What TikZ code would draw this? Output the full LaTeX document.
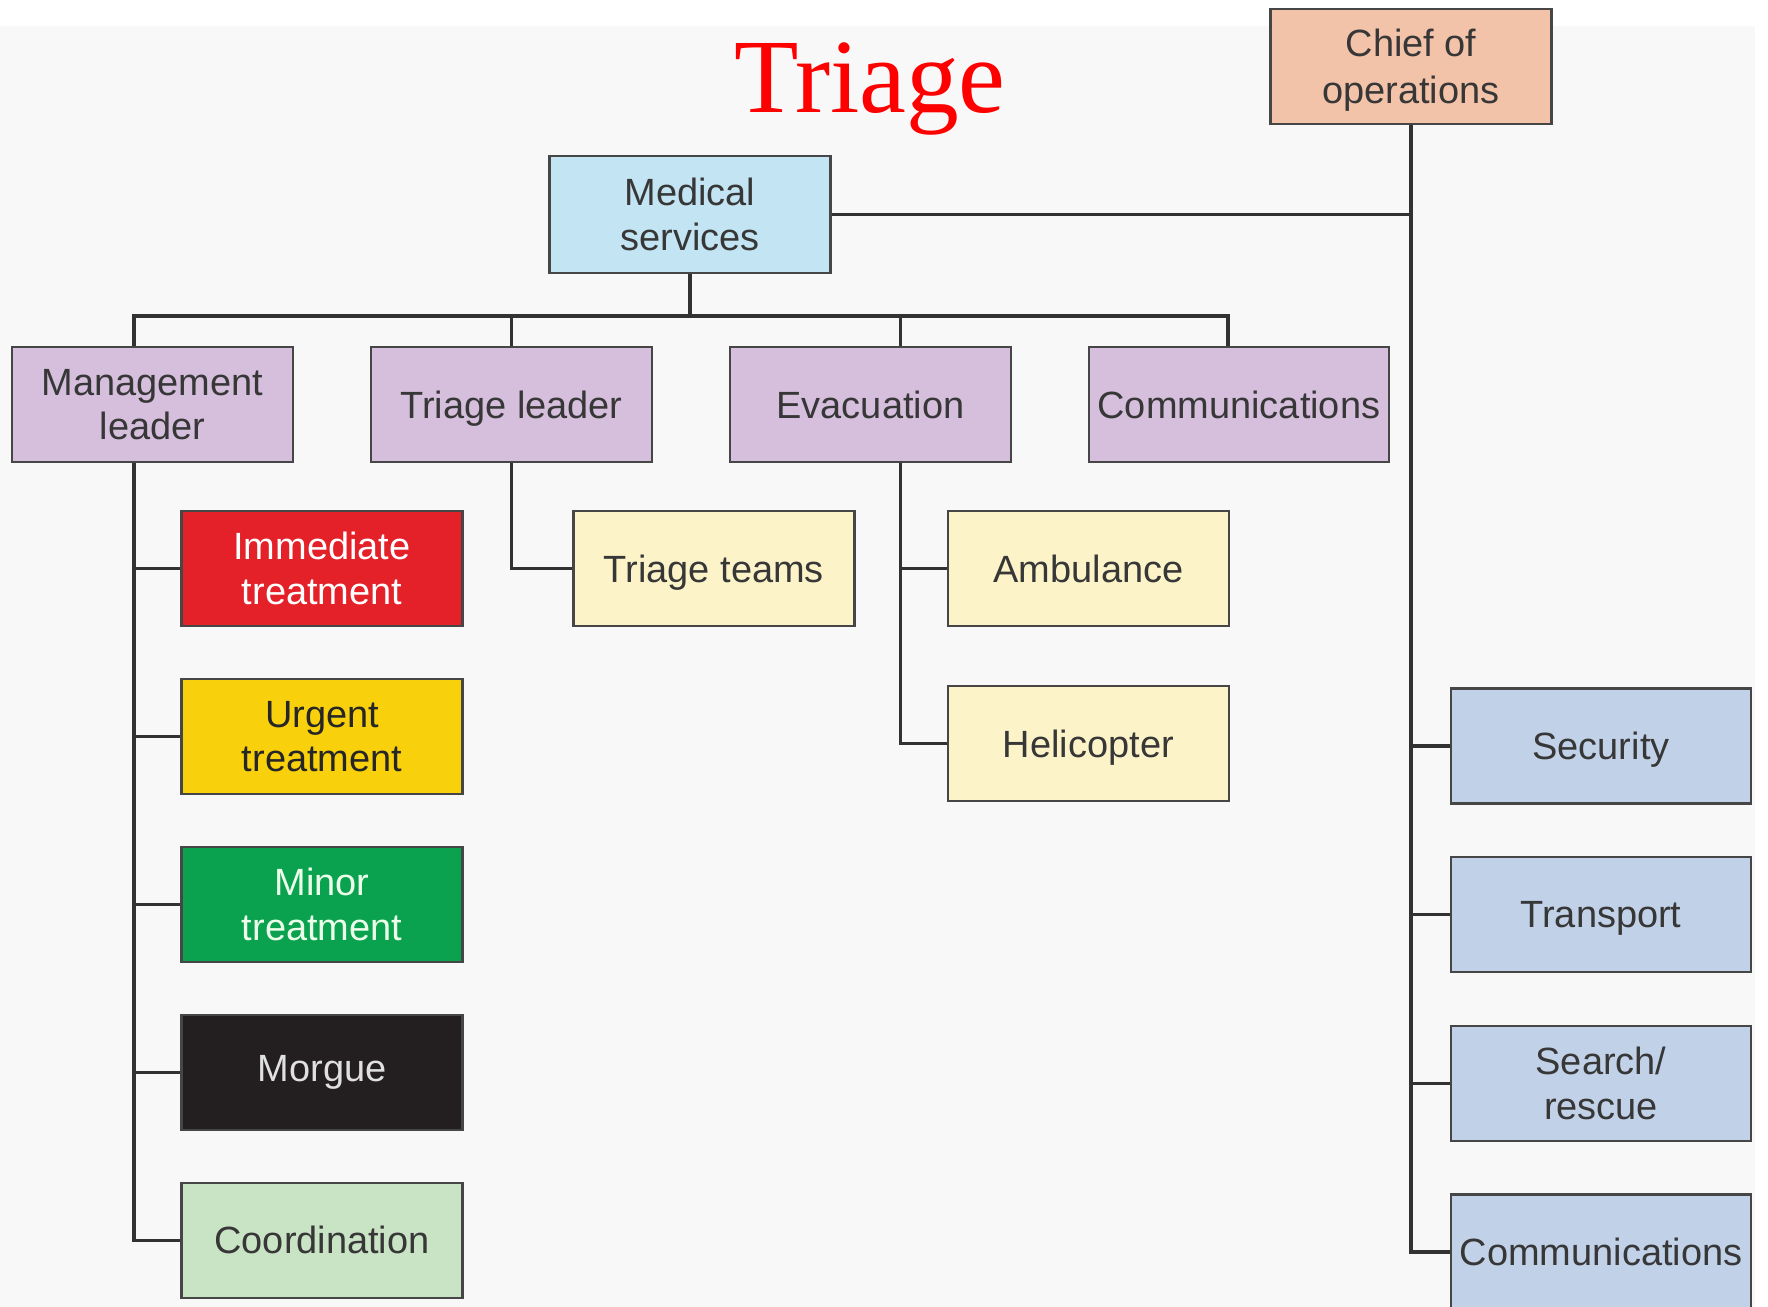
\documentclass[tikz,border=0pt]{standalone}
\usepackage{fontspec}
\newfontfamily\boxfont{Liberation Sans}
\newfontfamily\titlefont{Liberation Serif}
\usetikzlibrary{positioning}

\begin{document}
\begin{tikzpicture}[x=0.1mm,y=-0.1mm,line width=1pt,node distance=5.05mm,
	base box/.style={rectangle,draw=boxline,line width=0.7pt,minimum width=28.1mm,
		minimum height=11.5mm,align=center,text=txtgray,inner xsep=1pt,
		font=\boxfont\fontsize{10.8}{12.6}\selectfont},
	lead box/.style={base box,fill=lilac,text depth=0pt},
	sub box/.style={base box,fill=paleyellow,text depth=0pt},
	ops box/.style={base box,fill=opsblue,minimum width=30mm,text depth=0pt}]
	
	\definecolor{bggray}{RGB}{248,248,248}
	\definecolor{boxline}{RGB}{70,70,70}
	\definecolor{wire}{RGB}{50,50,50}
	\definecolor{txtgray}{RGB}{55,55,55}
	\definecolor{salmon}{RGB}{242,194,169}
	\definecolor{medblue}{RGB}{194,228,243}
	\definecolor{lilac}{RGB}{214,191,221}
	\definecolor{paleyellow}{RGB}{252,244,200}
	\definecolor{redcat}{RGB}{228,32,40}
	\definecolor{yellowcat}{RGB}{248,209,12}
	\definecolor{greencat}{RGB}{10,162,78}
	\definecolor{blackcat}{RGB}{35,31,32}
	\definecolor{palegreen}{RGB}{201,227,197}
	\definecolor{opsblue}{RGB}{193,209,232}
	
	\useasboundingbox (0,0) rectangle (1768,1307);
	\fill[bggray] (0,26) rectangle (1755,1307);
	
	\node[text=red,anchor=base,font=\titlefont\fontsize{30}{30}\selectfont] (title) at (870,113) {Triage};
	
	\node[base box,fill=salmon,text depth=0pt,font=\boxfont\fontsize{10.8}{13.4}\selectfont] (chief) at (1411,66.5) {Chief of\\operations};
	\node[base box,fill=medblue,minimum height=11.7mm] (med) at (690,214.5) {Medical\\services};
	
	% second row
	\node[lead box] (mgmt) at (152.5,404.5) {Management\\leader};
	\node[lead box] (tlead) [right=7.55mm of mgmt] {Triage leader};
	\node[lead box] (evac) [right=7.55mm of tlead] {Evacuation};
	\node[lead box,minimum width=30mm] (comm) [right=7.55mm of evac] {Communications};
	
	% treatment areas
	\node[base box,fill=redcat,text=white] (imm) at (322,568.5) {Immediate\\treatment};
	\node[base box,fill=yellowcat,text=black!85] (urg) [below=of imm] {Urgent\\treatment};
	\node[base box,fill=greencat,text=green!8] (minor) [below=of urg] {Minor\\treatment};
	\node[base box,fill=blackcat,text=black!12] (morgue) [below=of minor] {Morgue};
	\node[base box,fill=palegreen] (coord) [below=of morgue] {Coordination};
	
	\node[sub box] (tteam) [right=10.85mm of imm] {Triage teams};
	\node[sub box] (amb) [right=9.1mm of tteam] {Ambulance};
	\node[sub box] (heli) [below=5.75mm of amb] {Helicopter};
	
	% operations side
	\node[ops box] (sec) at (1601,746) {Security};
	\node[ops box] (trans) [below=5.12mm of sec] {Transport};
	\node[ops box] (search) [below=5.12mm of trans] {Search/\\rescue};
	\node[ops box] (opscomm) [below=5.12mm of search] {Communications};
	
	\coordinate (bus) at ([yshift=-4.2mm]med.south);
	\coordinate (mgmtx) at ([xshift=-1.85mm]mgmt.south);
	\coordinate (evacx) at ([xshift=3mm]evac.south);
	
	\begin{scope}[draw=wire]
	\draw (med.south) -- (bus);
	\draw ([xshift=-1.85mm]mgmt.north) |- (bus) -| ([xshift=-1.1mm]comm.north);
	\draw (tlead.north) -- (tlead.north |- bus);
	\draw ([xshift=3mm]evac.north) -- ([xshift=3mm]evac.north |- bus);
	\draw (med.east) -- (med.east -| chief.south);
	
	\foreach \n in {imm,urg,minor,morgue,coord}
		\draw (mgmtx) |- (\n.west);
	\draw (tlead.south) |- (tteam.west);
	\foreach \n in {amb,heli}
		\draw (evacx) |- (\n.west);
	\foreach \n in {sec,trans,search,opscomm}
		\draw (chief.south) |- (\n.west);
	\end{scope}
\end{tikzpicture}
\end{document}
